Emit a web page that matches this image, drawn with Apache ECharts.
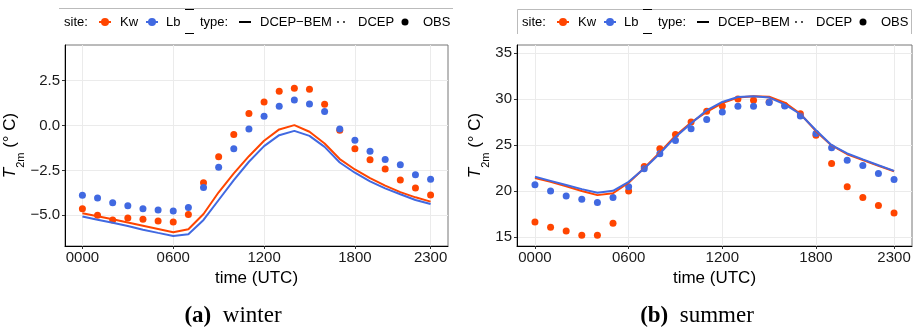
<!DOCTYPE html>
<html>
<head>
<meta charset="utf-8">
<script src="https://cdn.jsdelivr.net/npm/echarts@6/dist/echarts.min.js"></script>
<style>
  html, body { margin: 0; padding: 0; background: #fff; }
  #chart { width: 916px; height: 327px; }
</style>
</head>
<body>
<div id="chart"></div>
<script>
const hours = [0, 1, 2, 3, 4, 5, 6, 7, 8, 9, 10, 11, 12, 13, 14, 15, 16, 17, 18, 19, 20, 21, 22, 23];
const xTickValues = [0, 6, 12, 18, 23];
const xTickLabels = ['0000', '0600', '1200', '1800', '2300'];

const winterTicks = [-5, -2.5, 0, 2.5];
const winterTickLabels = ['\u22125.0', '\u22122.5', '0.0', '2.5'];
const summerTicks = [15, 20, 25, 30, 35];
const summerTickLabels = ['15', '20', '25', '30', '35'];

// winter (a)
const winterKwBem = [-4.89, -5.05, -5.22, -5.4, -5.58, -5.76, -5.94, -5.78, -4.93, -3.72, -2.67, -1.71, -0.85, -0.22, 0.02, -0.35, -1.0, -1.87, -2.45, -2.93, -3.35, -3.71, -4.0, -4.24];
const winterLbBem = [-5.07, -5.25, -5.42, -5.6, -5.8, -5.98, -6.15, -6.06, -5.26, -4.15, -3.04, -2.02, -1.15, -0.54, -0.3, -0.58, -1.19, -2.06, -2.63, -3.11, -3.5, -3.83, -4.15, -4.37];
const winterKwObs = [-4.63, -5.0, -5.26, -5.15, -5.22, -5.32, -5.37, -4.96, -3.19, -1.74, -0.5, 0.67, 1.31, 1.91, 2.07, 2.02, 1.18, -0.26, -1.3, -1.91, -2.43, -3.04, -3.48, -3.87];
const winterLbObs = [-3.89, -4.04, -4.3, -4.47, -4.63, -4.7, -4.76, -4.57, -3.46, -2.33, -1.3, -0.2, 0.52, 1.07, 1.42, 1.2, 0.78, -0.19, -0.82, -1.43, -1.89, -2.19, -2.74, -3.0];

// summer (b)
const summerKwBem = [21.4, 21.0, 20.5, 20.0, 19.55, 19.75, 20.9, 22.5, 24.2, 26.0, 27.45, 28.6, 29.55, 30.15, 30.3, 30.25, 29.6, 28.4, 26.5, 24.95, 24.0, 23.35, 22.75, 22.15];
const summerLbBem = [21.54, 21.1, 20.65, 20.2, 19.8, 20.02, 21.0, 22.45, 24.08, 25.88, 27.35, 28.77, 29.68, 30.22, 30.3, 30.15, 29.42, 28.34, 26.6, 24.98, 24.08, 23.43, 22.8, 22.19];
const summerKwObs = [16.63, 16.05, 15.65, 15.18, 15.18, 16.48, 20.0, 22.67, 24.58, 26.14, 27.5, 28.67, 29.25, 30.0, 29.86, 29.68, 29.28, 28.41, 26.06, 23.0, 20.46, 19.3, 18.43, 17.6];
const summerLbObs = [20.67, 20.0, 19.45, 19.09, 18.76, 19.3, 20.46, 22.41, 24.04, 25.49, 26.77, 27.76, 28.59, 29.2, 29.2, 29.61, 29.25, 28.16, 26.25, 24.69, 23.35, 22.77, 21.9, 21.25];

const KW = '#FF4500';
const LB = '#4169E1';
const FONT = '"Liberation Sans", Arial, sans-serif';

const pairs = vals => hours.map((h, i) => [h, vals[i]]);

const chart = echarts.init(document.getElementById('chart'));

const xAxisOf = (gridIndex) => ({
  type: 'value',
  gridIndex,
  min: -1.15,
  max: 24.15,
  name: 'time (UTC)',
  nameLocation: 'middle',
  nameGap: 24,
  nameTextStyle: { fontFamily: FONT, fontSize: 17, color: '#000' },
  axisLine: { show: true, onZero: false, lineStyle: { color: '#000', width: 1 } },
  axisTick: { show: true, inside: false, length: 3, customValues: xTickValues, lineStyle: { color: '#333' } },
  axisLabel: {
    customValues: xTickValues,
    margin: 4,
    fontFamily: FONT, fontSize: 15, color: '#1a1a1a',
    formatter: v => xTickLabels[xTickValues.indexOf(v)]
  },
  splitLine: { show: true, lineStyle: { color: '#ebebeb', width: 1 } }
});

const yAxisOf = (gridIndex, min, max, ticks, labels, gap) => ({
  type: 'value',
  gridIndex,
  min, max,
  name: '{t|T}{s|2m}{n| (° C)}',
  nameLocation: 'middle',
  nameRotate: 90,
  nameGap: gap,
  nameTextStyle: {
    fontFamily: FONT, fontSize: 17, color: '#000',
    rich: {
      t: { fontFamily: FONT, fontSize: 17, fontStyle: 'italic', lineHeight: 22, verticalAlign: 'top' },
      s: { fontFamily: FONT, fontSize: 11, lineHeight: 11, verticalAlign: 'bottom', padding: [0, 0, -3, 0] },
      n: { fontFamily: FONT, fontSize: 17, lineHeight: 22, verticalAlign: 'top' }
    }
  },
  axisLine: { show: true, onZero: false, lineStyle: { color: '#000', width: 1 } },
  axisTick: { show: true, inside: false, length: 3, customValues: ticks, lineStyle: { color: '#333' } },
  axisLabel: {
    customValues: ticks,
    margin: 5,
    fontFamily: FONT, fontSize: 15, color: '#1a1a1a',
    formatter: v => labels[ticks.indexOf(v)]
  },
  splitLine: { show: true, lineStyle: { color: '#ebebeb', width: 1 } }
});

const lineSeries = (name, idx, data, color) => ({
  name, type: 'line', xAxisIndex: idx, yAxisIndex: idx,
  data: pairs(data), showSymbol: false, symbol: 'none',
  lineStyle: { color, width: 2 }, itemStyle: { color }, silent: true, animation: false
});
const dotSeries = (name, idx, data, color) => ({
  name, type: 'scatter', xAxisIndex: idx, yAxisIndex: idx,
  data: pairs(data), symbol: 'circle', symbolSize: 7,
  itemStyle: { color, opacity: 1 }, silent: true, animation: false
});

// legend drawn as graphic elements, one per panel
const legendAt = (dx, boxed) => {
  const els = [];
  const txt = (x, s) => ({ type: 'text', x: x + dx, y: 22, style: { text: s, font: '13px ' + FONT, fill: '#000', verticalAlign: 'middle' } });
  const key = (x, color) => [
    { type: 'line', shape: { x1: x - 6 + dx, y1: 22, x2: x + 6 + dx, y2: 22 }, style: { stroke: color, lineWidth: 2 } },
    { type: 'circle', shape: { cx: x + dx, cy: 22, r: 4 }, style: { fill: color } }
  ];
  if (boxed) {
    els.push({ type: 'polyline', shape: { points: [[59.5 + dx, 34], [59.5 + dx, 9.5], [453.5 + dx, 9.5], [453.5 + dx, 34]] }, style: { stroke: '#bbb', lineWidth: 1, fill: null } });
  } else {
    els.push({ type: 'line', shape: { x1: 59 + dx, y1: 8.5, x2: 453 + dx, y2: 8.5 }, style: { stroke: '#bbb', lineWidth: 1 } });
  }
  els.push(txt(64, 'site:'));
  els.push(...key(105, KW));
  els.push(txt(120, 'Kw'));
  els.push(...key(152, LB));
  els.push(txt(166, 'Lb'));
  els.push({ type: 'line', shape: { x1: 185 + dx, y1: 9.5, x2: 194 + dx, y2: 9.5 }, style: { stroke: '#000', lineWidth: 1 } });
  els.push({ type: 'line', shape: { x1: 185 + dx, y1: 33.5, x2: 194 + dx, y2: 33.5 }, style: { stroke: '#000', lineWidth: 1 } });
  els.push(txt(200, 'type:'));
  els.push({ type: 'line', shape: { x1: 239 + dx, y1: 22, x2: 251 + dx, y2: 22 }, style: { stroke: '#000', lineWidth: 2 } });
  els.push(txt(260, 'DCEP\u2212BEM'));
  els.push({ type: 'circle', shape: { cx: 338 + dx, cy: 22, r: 0.9 }, style: { fill: '#000' } });
  els.push({ type: 'circle', shape: { cx: 344 + dx, cy: 22, r: 0.9 }, style: { fill: '#000' } });
  els.push(txt(358, 'DCEP'));
  els.push({ type: 'circle', shape: { cx: 405 + dx, cy: 22, r: 3.5 }, style: { fill: '#000' } });
  els.push(txt(423, 'OBS'));
  return els;
};

const caption = (cx, a, word) => ({
  type: 'text', x: cx, y: 316,
  style: {
    text: '{b|' + a + '}{r|  ' + word + '}',
    align: 'center', verticalAlign: 'middle',
    rich: {
      b: { fontFamily: '"Liberation Serif", serif', fontWeight: 'bold', fontSize: 23, fill: '#000' },
      r: { fontFamily: '"Liberation Serif", serif', fontSize: 23, fill: '#000' }
    }
  }
});

chart.setOption({
  animation: false,
  backgroundColor: '#fff',
  grid: [
    { left: 65, top: 45, width: 383, height: 201, show: true, borderColor: '#777', borderWidth: 1, containLabel: false },
    { left: 517, top: 45, width: 395, height: 201, show: true, borderColor: '#777', borderWidth: 1, containLabel: false }
  ],
  xAxis: [xAxisOf(0), xAxisOf(1)],
  yAxis: [
    yAxisOf(0, -6.71, 4.48, winterTicks, winterTickLabels, 40),
    yAxisOf(1, 14.02, 35.87, summerTicks, summerTickLabels, 26)
  ],
  series: [
    lineSeries('Kw DCEP-BEM', 0, winterKwBem, KW),
    lineSeries('Lb DCEP-BEM', 0, winterLbBem, LB),
    dotSeries('Kw OBS', 0, winterKwObs, KW),
    dotSeries('Lb OBS', 0, winterLbObs, LB),
    lineSeries('Kw DCEP-BEM', 1, summerKwBem, KW),
    lineSeries('Lb DCEP-BEM', 1, summerLbBem, LB),
    dotSeries('Kw OBS', 1, summerKwObs, KW),
    dotSeries('Lb OBS', 1, summerLbObs, LB)
  ],
  graphic: [
    ...legendAt(0, false),
    ...legendAt(458, true),
    caption(233, '(a)', 'winter'),
    caption(697, '(b)', 'summer')
  ]
});
</script>
</body>
</html>
